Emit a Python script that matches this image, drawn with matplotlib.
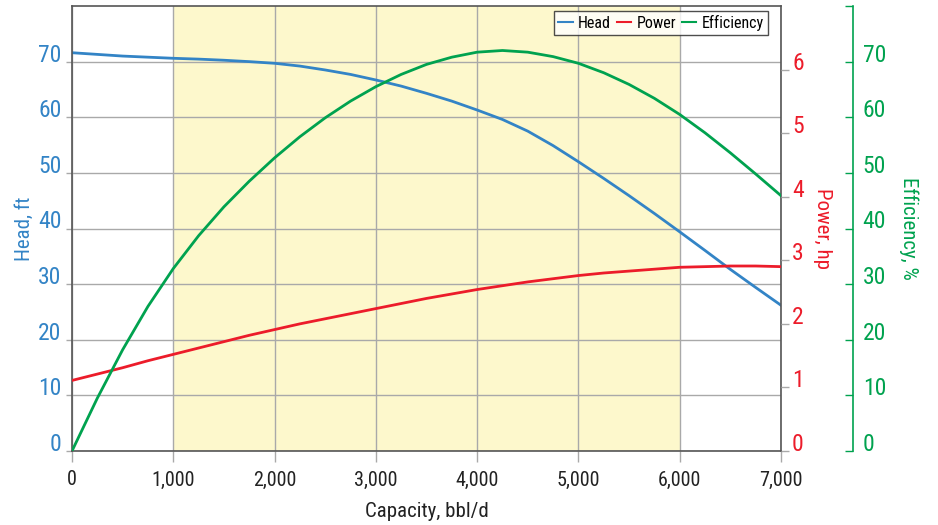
import matplotlib
matplotlib.use("Agg")
import matplotlib.pyplot as plt

# narrow sans first, plain sans as fallback
plt.rcParams['font.family'] = ['Roboto Condensed', 'Archivo Narrow',
                               'Liberation Sans', 'DejaVu Sans']

# --- Data ---
capacity = [0, 250, 500, 750, 1000, 1250, 1500, 1750, 2000, 2250, 2500,
            2750, 3000, 3250, 3500, 3750, 4000, 4250, 4500, 4750, 5000,
            5250, 5500, 5750, 6000, 6250, 6500, 6750, 7000]
head = [71.6, 71.3, 71.0, 70.8, 70.6, 70.45, 70.25, 70.0, 69.7, 69.2, 68.5,
        67.7, 66.7, 65.6, 64.3, 62.9, 61.3, 59.6, 57.5, 54.9, 52.0,
        49.0, 45.9, 42.7, 39.4, 36.05, 32.65, 29.4, 26.2]
power = [1.11, 1.21, 1.31, 1.42, 1.52, 1.62, 1.72, 1.82, 1.91, 2.00, 2.08,
         2.16, 2.24, 2.32, 2.40, 2.47, 2.54, 2.60, 2.66, 2.71, 2.76,
         2.80, 2.83, 2.86, 2.89, 2.90, 2.91, 2.91, 2.90]
efficiency = [0, 9.5, 18.2, 26.0, 32.8, 38.7, 43.9, 48.5, 52.7, 56.5, 59.9,
              62.9, 65.5, 67.7, 69.5, 70.8, 71.7, 72.0, 71.7, 70.9, 69.7,
              68.0, 65.9, 63.4, 60.5, 57.2, 53.6, 49.8, 45.9]

x_ticks = [0, 1000, 2000, 3000, 4000, 5000, 6000, 7000]
head_ticks = [0, 10, 20, 30, 40, 50, 60, 70]
power_ticks = [0, 1, 2, 3, 4, 5, 6]
eff_ticks = [0, 10, 20, 30, 40, 50, 60, 70, 80]
eff_labels = ["0", "10", "20", "30", "40", "50", "60", "70", ""]

BLUE = "#3384c6"
RED = "#ec1c2a"
GREEN = "#00a24f"
GRID = "#a9a9a9"
SPINE = "#555555"
FILL = "#fdf8cc"

fig = plt.figure(figsize=(9.38, 5.25), dpi=100)
ax = fig.add_axes([72/938, 1 - 451/525, (781 - 72)/938, (451 - 6)/525])

ax.axvspan(1000, 6000, color=FILL, zorder=0, lw=0)
ax.set_axisbelow(True)
ax.grid(True, color=GRID, lw=1.0)

l1, = ax.plot(capacity, head, color=BLUE, lw=2.0, label="Head")
ax.set_xlim(0, 7000)
ax.set_ylim(0, 80)
ax.set_xticks(x_ticks)
ax.set_xticklabels([f"{v:,}" for v in x_ticks])
ax.set_yticks(head_ticks)
ax.tick_params(axis='x', length=8, width=1, color=GRID, pad=6,
               labelsize=14.5, labelcolor="#222222")
ax.tick_params(axis='y', length=4.5, width=1, color=GRID, pad=3,
               labelsize=17, labelcolor=BLUE)
plt.setp(ax.get_yticklabels(), va='baseline')
for s in ax.spines.values():
    s.set_color(SPINE)
    s.set_linewidth(1.2)
ax.set_xlabel("Capacity, bbl/d", fontsize=15, color="#222222", labelpad=9)
ax.set_ylabel("Head, ft", fontsize=15, color=BLUE, labelpad=3)

# --- Power axis ---
ax2 = ax.twinx()
l2, = ax2.plot(capacity, power, color=RED, lw=2.0, label="Power")
ax2.set_ylim(0, 7)
ax2.set_yticks(power_ticks)
ax2.tick_params(axis='y', length=6, width=1, color=GRID, pad=2,
                labelsize=17, labelcolor=RED)
plt.setp(ax2.get_yticklabels(), va='baseline')
for s in ax2.spines.values():
    s.set_visible(False)
ax2.set_ylabel("Power, hp", fontsize=15, color=RED, rotation=270,
               labelpad=20)

# --- Efficiency axis ---
ax3 = ax.twinx()
ax3.spines['right'].set_position(('axes', (853 - 72)/(781 - 72)))
for k in ['left', 'top', 'bottom']:
    ax3.spines[k].set_visible(False)
ax3.spines['right'].set_color(GREEN)
ax3.spines['right'].set_linewidth(1.2)
l3, = ax3.plot(capacity, efficiency, color=GREEN, lw=2.0, label="Efficiency")
ax3.set_ylim(0, 80)
ax3.set_yticks(eff_ticks)
ax3.set_yticklabels(eff_labels)
ax3.tick_params(axis='y', direction='in', length=6, width=1, color=GREEN,
                pad=7, labelsize=17, labelcolor=GREEN)
plt.setp(ax3.get_yticklabels(), va='baseline')
ax3.set_ylabel("Efficiency, %", fontsize=15, color=GREEN, rotation=270,
               labelpad=23)

leg = ax3.legend(handles=[l1, l2, l3], ncol=3, loc='upper right',
                 bbox_to_anchor=((768 - 72)/709, (451 - 11)/445),
                 borderaxespad=0, fontsize=11.5, frameon=True, fancybox=False,
                 handlelength=0.9, handletextpad=0.35, columnspacing=0.35,
                 borderpad=0.25)
leg.get_frame().set_edgecolor("#222222")
leg.get_frame().set_linewidth(1.0)
for h in leg.legend_handles:
    h.set_linewidth(1.5)

fig.savefig("out.png", dpi=100)
